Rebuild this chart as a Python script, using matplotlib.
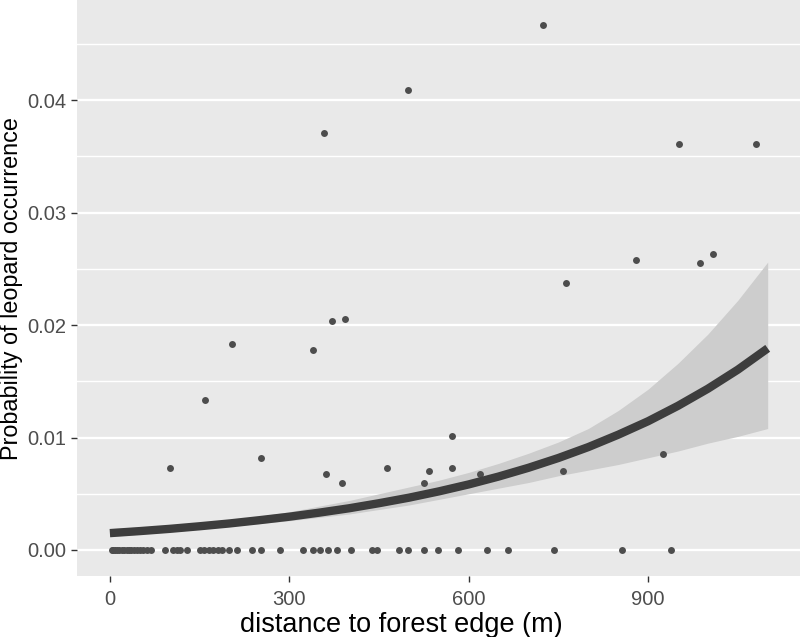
import matplotlib
matplotlib.use("Agg")
import matplotlib.pyplot as plt
import numpy as np

plt.rcParams['font.family'] = ['Liberation Sans', 'DejaVu Sans']

# observed points (distance m, probability)
zero_x = [3, 6, 9, 12, 16, 20, 24, 28, 32, 36, 40, 45, 50, 56, 62, 68,
          92, 105, 112, 118, 129, 151, 158, 165, 172, 180, 188, 200, 212,
          237, 253, 284, 323, 340, 351, 365, 379, 403, 438, 446, 484, 499,
          526, 548, 582, 630, 665, 742, 856, 939]
pos_x = [100, 159, 205, 252, 340, 358, 361, 372, 388, 393, 463, 499, 526, 534,
         572, 572, 619, 725, 757, 763, 880, 925, 952, 986, 1008, 1080]
pos_y = [0.0073, 0.0133, 0.0183, 0.0082, 0.0178, 0.0371, 0.0068, 0.0204,
         0.0060, 0.0205, 0.0073, 0.0409, 0.0060, 0.0070, 0.0101, 0.0073,
         0.0068, 0.0467, 0.0070, 0.0237, 0.0258, 0.0085, 0.0361, 0.0255,
         0.0263, 0.0361]

# fitted curve and confidence band, every 50 m
fit_x = [0, 50, 100, 150, 200, 250, 300, 350, 400, 450, 500, 550,
         600, 650, 700, 750, 800, 850, 900, 950, 1000, 1050, 1100]
fit_y = [0.00150, 0.00168, 0.00188, 0.00211, 0.00236, 0.00265, 0.00296,
         0.00332, 0.00371, 0.00416, 0.00465, 0.00521, 0.00583, 0.00653,
         0.00731, 0.00818, 0.00915, 0.01025, 0.01145, 0.01282, 0.01434,
         0.01603, 0.01793]
fit_lo = [0.0012, 0.0014, 0.0016, 0.00185, 0.0021, 0.00235, 0.0026, 0.0029,
          0.0032, 0.0036, 0.0040, 0.0045, 0.0050, 0.0055, 0.0060, 0.0066,
          0.0071, 0.0076, 0.0082, 0.0088, 0.0095, 0.0101, 0.0108]
fit_hi = [0.0019, 0.00205, 0.0022, 0.00245, 0.0027, 0.0030, 0.0034, 0.0039,
          0.0044, 0.0050, 0.0056, 0.0062, 0.0069, 0.0077, 0.0086, 0.0096,
          0.0108, 0.0124, 0.0143, 0.0166, 0.0192, 0.0222, 0.0256]

fig = plt.figure(figsize=(8, 6.37), dpi=100)
ax = fig.add_axes([0.09625, 0.0958, 0.90375, 0.9042])
ax.set_facecolor('#e9e9e9')
for s in ax.spines.values():
    s.set_visible(False)

ax.set_xlim(-55, 1154)
ax.set_ylim(-0.00231, 0.0489)

# horizontal grid only
ax.set_yticks([0, 0.01, 0.02, 0.03, 0.04])
ax.set_yticks(np.arange(0.005, 0.05, 0.01), minor=True)
ax.set_xticks([0, 300, 600, 900])
ax.grid(axis='y', which='major', color='white', lw=1.7)
ax.grid(axis='y', which='minor', color='white', lw=1.0)
ax.grid(axis='x', visible=False)
ax.set_axisbelow(True)

ax.fill_between(fit_x, fit_lo, fit_hi, color='#cdcdcd', lw=0, zorder=2)
ax.scatter(zero_x, [0] * len(zero_x), s=25, color='#4d4d4d', lw=0, zorder=3)
ax.scatter(pos_x, pos_y, s=25, color='#4d4d4d', lw=0, zorder=3)
ax.plot(fit_x, fit_y, color='#3d3d3d', lw=6, solid_capstyle='butt', zorder=4)

ax.set_yticklabels(['0.00', '0.01', '0.02', '0.03', '0.04'])
ax.tick_params(axis='both', which='major', length=4, width=1, color='#333333',
               labelcolor='#4d4d4d', labelsize=14.5, pad=4)
ax.tick_params(axis='x', which='major', pad=6)
ax.tick_params(axis='y', which='minor', length=0)

fig.text(0.50125, 0.0188, 'distance to forest edge (m)', fontsize=19.5,
         color='black', ha='center', va='center')
fig.text(0.0145, 0.5463, 'Probability of leopard occurrence', fontsize=16.8,
         color='black', ha='center', va='center', rotation=90)

fig.savefig('out.png', dpi=100, facecolor='white')
